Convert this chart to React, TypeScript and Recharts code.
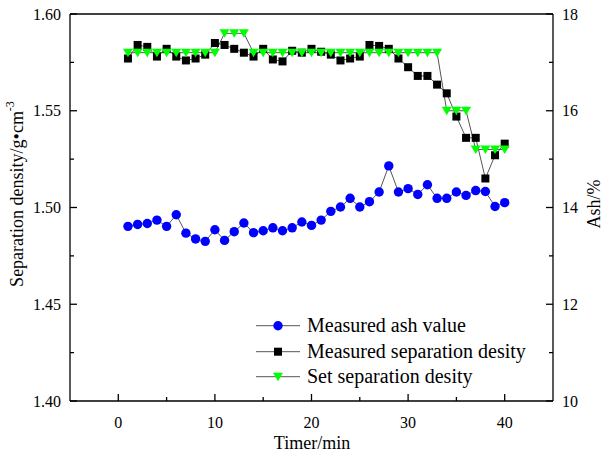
import React from "react";
import {
  ComposedChart,
  Line,
  XAxis,
  YAxis,
  ReferenceLine,
  Legend,
} from "recharts";

// time in minutes
const times = [
  1, 2, 3, 4, 5, 6, 7, 8, 9, 10, 11, 12, 13, 14, 15, 16, 17, 18, 19, 20,
  21, 22, 23, 24, 25, 26, 27, 28, 29, 30, 31, 32, 33, 34, 35, 36, 37, 38, 39, 40,
];

// ash, % (right axis)
const ashValues = [
  13.61, 13.65, 13.67, 13.74, 13.61, 13.85, 13.47, 13.35, 13.3, 13.54,
  13.32, 13.5, 13.68, 13.48, 13.52, 13.58, 13.52, 13.58, 13.7, 13.63,
  13.74, 13.92, 14.01, 14.19, 14.01, 14.12, 14.32, 14.86, 14.32, 14.39,
  14.27, 14.47, 14.19, 14.19, 14.32, 14.25, 14.35, 14.33, 14.02, 14.1,
];

// measured separation density, g/cm3 (left axis)
const measuredDensity = [
  1.577, 1.584, 1.583, 1.578, 1.582, 1.578, 1.576, 1.577, 1.579, 1.585,
  1.584, 1.582, 1.58, 1.578, 1.582, 1.5765, 1.5755, 1.581, 1.58, 1.582,
  1.5805, 1.579, 1.576, 1.577, 1.578, 1.584, 1.5835, 1.582, 1.577, 1.5725,
  1.568, 1.568, 1.5635, 1.559, 1.547, 1.536, 1.536, 1.515, 1.527, 1.533,
];

// set separation density, g/cm3 (left axis)
const setDensity = [
  1.58, 1.58, 1.58, 1.58, 1.58, 1.58, 1.58, 1.58, 1.58, 1.58,
  1.59, 1.59, 1.59, 1.58, 1.58, 1.58, 1.58, 1.58, 1.58, 1.58,
  1.58, 1.58, 1.58, 1.58, 1.58, 1.58, 1.58, 1.58, 1.58, 1.58,
  1.58, 1.58, 1.58, 1.55, 1.55, 1.55, 1.53, 1.53, 1.53, 1.53,
];

const xTicks = [0, 5, 10, 15, 20, 25, 30, 35, 40];
const leftTicks = [1.4, 1.425, 1.45, 1.475, 1.5, 1.525, 1.55, 1.575, 1.6];
const rightTicks = [10, 11, 12, 13, 14, 15, 16, 17, 18];

const seriesNames = [
  "Measured ash value",
  "Measured separation desity",
  "Set separation desity",
];

const data = times.map((t, i) => ({
  time: t,
  ash: ashValues[i],
  measured: measuredDensity[i],
  set: setDensity[i],
}));

const FONT = "'Liberation Serif', 'Times New Roman', serif";
const LINE_COLOR = "#555";

const Circle = ({ cx, cy }: { cx: number; cy: number }) => (
  <circle cx={cx} cy={cy} r={4.7} fill="#0000ff" />
);
const Square = ({ cx, cy }: { cx: number; cy: number }) => (
  <rect x={cx - 4} y={cy - 4} width={8} height={8} fill="#000" />
);
const Triangle = ({ cx, cy }: { cx: number; cy: number }) => (
  <polygon
    points={`${cx - 5},${cy - 4} ${cx + 5},${cy - 4} ${cx},${cy + 4.5}`}
    fill="#00ff00"
  />
);

const XTick = (props: any) => {
  const { x, y, payload } = props;
  const major = payload.value % 10 === 0;
  return (
    <g>
      <line x1={x} y1={y} x2={x} y2={y - (major ? 7 : 4)} stroke="#000" strokeWidth={1.3} />
      {major && (
        <text x={x} y={y + 27} textAnchor="middle" fontSize={16} fontFamily={FONT} fill="#000">
          {payload.value}
        </text>
      )}
    </g>
  );
};

const LeftTick = (props: any) => {
  const { x, y, payload } = props;
  const major = Math.round(payload.value * 1000) % 50 === 0;
  return (
    <g>
      <line x1={x} y1={y} x2={x + (major ? 7 : 4)} y2={y} stroke="#000" strokeWidth={1.3} />
      {major && (
        <text x={x - 9} y={y + 5.5} textAnchor="end" fontSize={16} fontFamily={FONT} fill="#000">
          {payload.value.toFixed(2)}
        </text>
      )}
    </g>
  );
};

const RightTick = (props: any) => {
  const { x, y, payload } = props;
  const major = payload.value % 2 === 0;
  return (
    <g>
      <line x1={x} y1={y} x2={x - (major ? 7 : 4)} y2={y} stroke="#000" strokeWidth={1.3} />
      {major && (
        <text x={x + 9} y={y + 5.5} textAnchor="start" fontSize={16} fontFamily={FONT} fill="#000">
          {payload.value}
        </text>
      )}
    </g>
  );
};

const LegendBox = () => {
  const rows = [13.7, 39.7, 64.7];
  const markers = [Circle, Square, Triangle];
  return (
    <svg width={300} height={80} style={{ overflow: "visible" }}>
      {seriesNames.map((name, i) => {
        const M = markers[i];
        return (
          <g key={name}>
            <line x1={6} x2={50} y1={rows[i]} y2={rows[i]} stroke={LINE_COLOR} strokeWidth={1} />
            <M cx={28} cy={rows[i]} />
            <text x={57} y={rows[i] + 6.5} fontSize={20} fontFamily={FONT} fill="#000">
              {name}
            </text>
          </g>
        );
      })}
    </svg>
  );
};

export default function App() {
  return (
    <div style={{ position: "absolute", left: 0, top: 0, width: 604, height: 454, background: "#fff" }}>
      <ComposedChart
        width={604}
        height={454}
        data={data}
        margin={{ top: 14, right: 0, bottom: 0, left: 0 }}
      >
        <XAxis
          dataKey="time"
          type="number"
          domain={[-5, 45]}
          ticks={xTicks}
          interval={0}
          height={53}
          tickSize={0}
          tickMargin={0}
          tick={<XTick />}
          axisLine={{ stroke: "#000", strokeWidth: 1.3 }}
          label={{
            content: () => (
              <text x={312} y={449} textAnchor="middle" fontSize={18} fontFamily={FONT} fill="#000">
                Timer/min
              </text>
            ),
          }}
        />
        <YAxis
          yAxisId="left"
          orientation="left"
          type="number"
          domain={[1.4, 1.6]}
          ticks={leftTicks}
          interval={0}
          width={70}
          tickSize={0}
          tickMargin={0}
          tick={<LeftTick />}
          axisLine={{ stroke: "#000", strokeWidth: 1.3 }}
          label={{
            content: () => (
              <text
                transform="translate(17,194) rotate(-90)"
                textAnchor="middle"
                dominantBaseline="central"
                fontSize={18}
                fontFamily={FONT}
                fill="#000"
              >
                Separation density/g•cm
                <tspan dy={-7} fontSize={12}>-3</tspan>
              </text>
            ),
          }}
        />
        <YAxis
          yAxisId="right"
          orientation="right"
          type="number"
          domain={[10, 18]}
          ticks={rightTicks}
          interval={0}
          width={51}
          tickSize={0}
          tickMargin={0}
          tick={<RightTick />}
          axisLine={{ stroke: "#000", strokeWidth: 1.3 }}
          label={{
            content: () => (
              <text
                transform="translate(594,204) rotate(-90)"
                textAnchor="middle"
                dominantBaseline="central"
                fontSize={18}
                fontFamily={FONT}
                fill="#000"
              >
                Ash/%
              </text>
            ),
          }}
        />
        <ReferenceLine yAxisId="left" y={1.6} stroke="#000" strokeWidth={1.3} />
        <Line
          yAxisId="right"
          dataKey="ash"
          name={seriesNames[0]}
          type="linear"
          stroke={LINE_COLOR}
          strokeWidth={1}
          dot={(p: any) => <Circle key={`a${p.index}`} cx={p.cx} cy={p.cy} />}
          activeDot={false}
          isAnimationActive={false}
        />
        <Line
          yAxisId="left"
          dataKey="measured"
          name={seriesNames[1]}
          type="linear"
          stroke={LINE_COLOR}
          strokeWidth={1}
          dot={(p: any) => <Square key={`m${p.index}`} cx={p.cx} cy={p.cy} />}
          activeDot={false}
          isAnimationActive={false}
        />
        <Line
          yAxisId="left"
          dataKey="set"
          name={seriesNames[2]}
          type="linear"
          stroke={LINE_COLOR}
          strokeWidth={1}
          dot={(p: any) => <Triangle key={`s${p.index}`} cx={p.cx} cy={p.cy} />}
          activeDot={false}
          isAnimationActive={false}
        />
        <Legend
          layout="horizontal"
          verticalAlign="middle"
          align="center"
          content={() => <LegendBox />}
          wrapperStyle={{ left: 250, top: 312, width: 300, height: 80 }}
        />
      </ComposedChart>
    </div>
  );
}
